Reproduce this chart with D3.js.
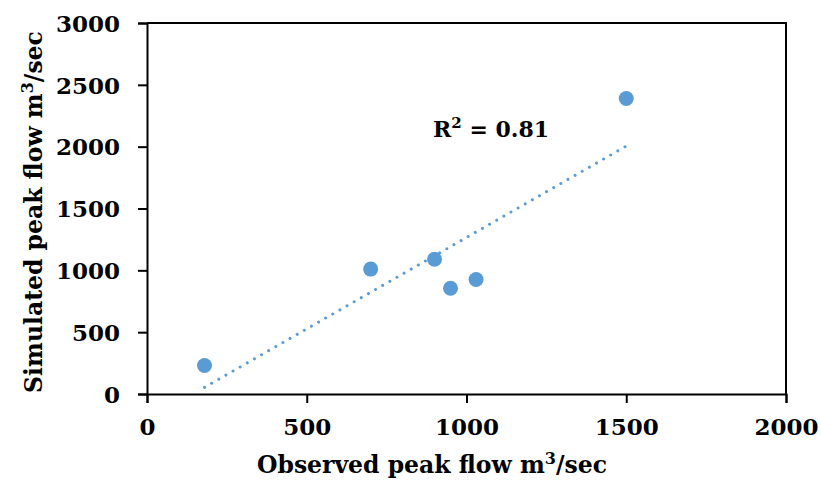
<!DOCTYPE html>
<html>
<head>
<meta charset="utf-8">
<script src="https://cdn.jsdelivr.net/npm/d3@7"></script>
<style>
  body { margin: 0; background: #fff; }
  text { font-family: "DejaVu Serif", serif; font-weight: bold; fill: #000; }
</style>
</head>
<body>
<script>
// observed vs simulated peak flows (m3/sec)
var observed = [180, 700, 900, 950, 1030, 1500];
var simulated = [230, 1010, 1090, 855, 926, 2390];
var xTicks = [0, 500, 1000, 1500, 2000];
var yTicks = [0, 500, 1000, 1500, 2000, 2500, 3000];
var r2Label = "0.81";

const margins = {top: 23, right: 35, bottom: 86, left: 147},
    width = 821 - margins.left - margins.right,
    height = 480 - margins.top - margins.bottom;

var svg = d3.select("body").append("svg")
    .attr("width", 821)
    .attr("height", 480);

var g = svg.append("g")
    .attr("transform", "translate(" + margins.left + "," + margins.top + ")");

var xScale = d3.scaleLinear().domain([0, 2000]).range([0, width]);
var yScale = d3.scaleLinear().domain([0, 3000]).range([height, 0]);

// plot box (top and right edges)
g.append("path")
    .attr("d", "M0,0H" + width + "V" + height)
    .attr("fill", "none")
    .attr("stroke", "#000")
    .attr("stroke-width", 2);

// axes
var xAxis = g.append("g")
    .attr("transform", "translate(0," + height + ")")
    .call(d3.axisBottom(xScale).tickValues(xTicks).tickSize(9).tickPadding(16).tickFormat(d3.format("d")));
var yAxis = g.append("g")
    .call(d3.axisLeft(yScale).tickValues(yTicks).tickSize(9).tickPadding(18).tickFormat(d3.format("d")));

[xAxis, yAxis].forEach(function(a) {
    a.select(".domain").attr("stroke", "#000").attr("stroke-width", 2);
    a.selectAll(".tick line").attr("stroke", "#000").attr("stroke-width", 2);
    a.selectAll(".tick text")
        .attr("font-family", "DejaVu Serif")
        .attr("font-weight", "bold")
        .attr("font-size", 23)
        .attr("fill", "#000");
});
yAxis.selectAll(".tick text").attr("dy", "0.36em");

// linear regression line
var mx = d3.mean(observed),
    my = d3.mean(simulated);
var sxy = d3.sum(observed, function(d, i) { return (d - mx) * (simulated[i] - my); });
var sxx = d3.sum(observed, function(d) { return (d - mx) * (d - mx); });
var slope = sxy / sxx,
    intercept = my - slope * mx;
var xExt = d3.extent(observed);

g.append("line")
    .attr("x1", xScale(xExt[0]))
    .attr("y1", yScale(intercept + slope * xExt[0]))
    .attr("x2", xScale(xExt[1]))
    .attr("y2", yScale(intercept + slope * xExt[1]))
    .attr("stroke", "#5B9BD5")
    .attr("stroke-width", 3)
    .attr("stroke-linecap", "round")
    .attr("stroke-dasharray", "0.01 8.2");

// points
g.selectAll("circle")
    .data(observed)
    .enter().append("circle")
    .attr("cx", function(d) { return xScale(d); })
    .attr("cy", function(d, i) { return yScale(simulated[i]); })
    .attr("r", 7.5)
    .attr("fill", "#5B9BD5");

// R squared label
var r2 = g.append("text")
    .attr("x", 286)
    .attr("y", 114)
    .attr("font-size", 22);
r2.append("tspan").text("R");
r2.append("tspan").attr("font-size", 15).attr("dy", -9).text("2");
r2.append("tspan").attr("dy", 9).text(" = " + r2Label);

// axis titles
var xt = svg.append("text")
    .attr("x", 432)
    .attr("y", 473)
    .attr("text-anchor", "middle")
    .attr("font-size", 23.5);
xt.append("tspan").text("Observed peak flow m");
xt.append("tspan").attr("font-size", 16).attr("dy", -9).text("3");
xt.append("tspan").attr("dy", 9).text("/sec");

var yt = svg.append("text")
    .attr("transform", "translate(42,212) rotate(-90)")
    .attr("text-anchor", "middle")
    .attr("font-size", 23.5);
yt.append("tspan").text("Simulated peak flow m");
yt.append("tspan").attr("font-size", 16).attr("dy", -9).text("3");
yt.append("tspan").attr("dy", 9).text("/sec");
</script>
</body>
</html>
